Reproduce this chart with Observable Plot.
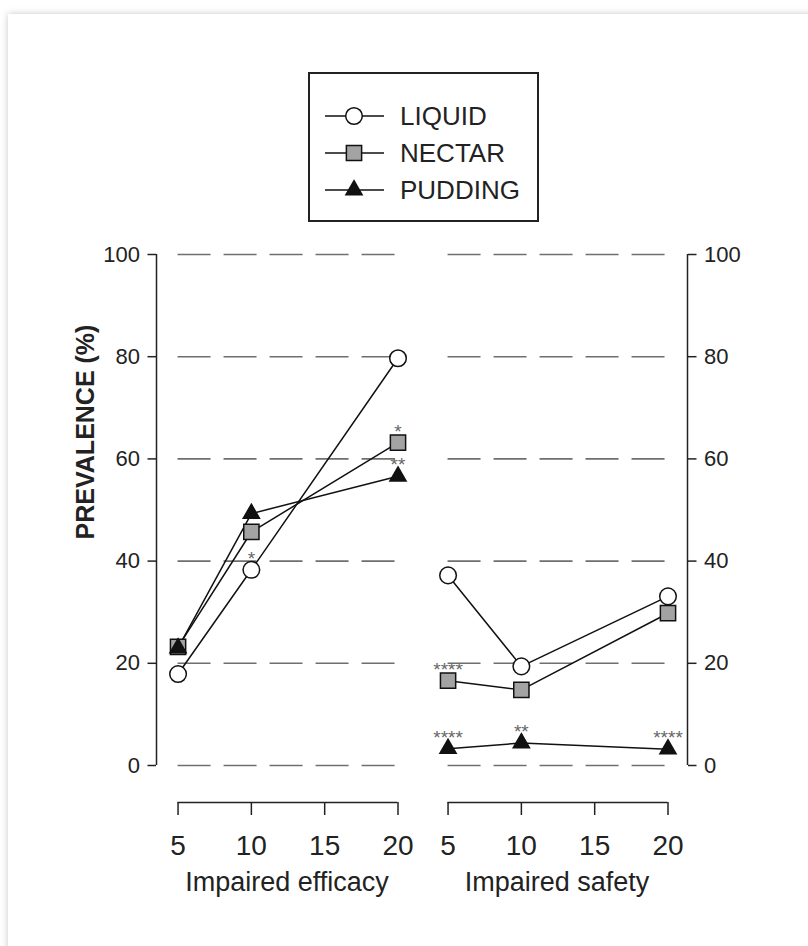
<!DOCTYPE html>
<html>
<head>
<meta charset="utf-8">
<script src="https://cdn.jsdelivr.net/npm/d3@7"></script>
<script src="https://cdn.jsdelivr.net/npm/@observablehq/plot@0.6"></script>
<style>
  html, body { margin: 0; padding: 0; background: #ffffff; width: 808px; height: 946px; overflow: hidden; }
  body { position: relative; font-family: "Liberation Sans", Arial, sans-serif; }
  #card { position: absolute; left: 8px; top: 14px; width: 830px; height: 960px; background: #fff;
          box-shadow: 0 0 7px rgba(0,0,0,0.22); }
  #chart { position: absolute; left: 0; top: 0; }
  #legend { position: absolute; left: 308px; top: 72px; }
</style>
</head>
<body>
<div id="card"></div>
<div id="chart"></div>
<div id="legend"></div>
<script>
// ---- data ----
const panels = ["Impaired efficacy", "Impaired safety"];
const doses = [5, 10, 20];
const seriesNames = ["LIQUID", "NECTAR", "PUDDING"];
const liquidEfficacy  = [17.9, 38.3, 79.7];
const nectarEfficacy  = [23.2, 45.7, 63.2];
const puddingEfficacy = [23.0, 49.3, 56.6];
const liquidSafety    = [37.2, 19.4, 33.1];
const nectarSafety    = [16.6, 14.8, 29.8];
const puddingSafety   = [3.3, 4.4, 3.2];
const yTicks = [0, 20, 40, 60, 80, 100];
const xTicks = [5, 10, 15, 20];
const annotPanels = ["Impaired efficacy", "Impaired efficacy", "Impaired efficacy", "Impaired safety", "Impaired safety", "Impaired safety", "Impaired safety"];
const annotDoses  = [10, 20, 20, 5, 5, 10, 20];
const annotSeries = ["LIQUID", "NECTAR", "PUDDING", "NECTAR", "PUDDING", "PUDDING", "PUDDING"];
const annotLabels = ["*", "*", "**", "****", "****", "**", "****"];

// ---- build table ----
const valuesBy = {
  "Impaired efficacy": {LIQUID: liquidEfficacy, NECTAR: nectarEfficacy, PUDDING: puddingEfficacy},
  "Impaired safety":   {LIQUID: liquidSafety,   NECTAR: nectarSafety,   PUDDING: puddingSafety}
};
const data = [];
for (const p of panels) for (const s of seriesNames) doses.forEach((d, i) => data.push({panel: p, series: s, dose: d, value: valuesBy[p][s][i]}));
const annots = annotLabels.map((t, i) => {
  const p = annotPanels[i], s = annotSeries[i], d = annotDoses[i];
  return {panel: p, dose: d, value: valuesBy[p][s][doses.indexOf(d)], label: t};
});

const styles = {
  LIQUID:  {symbol: "circle",   fill: "#ffffff", r: 8.3},
  NECTAR:  {symbol: "square",   fill: "#a3a3a3", r: 8.6},
  PUDDING: {symbol: "triangle", fill: "#111111", r: 6.0}
};
const xDomain = [3.53, 21.33];
const ink = "#222";
const font = "'Liberation Sans', Arial, Helvetica, sans-serif";

const chart = Plot.plot({
  width: 808,
  height: 946,
  marginTop: 254,
  marginBottom: 181,
  marginLeft: 155,
  marginRight: 120,
  style: {background: "transparent", fontFamily: font, color: ink},
  fx: {domain: panels, paddingInner: 0.033, paddingOuter: 0, axis: null, label: null},
  x: {domain: xDomain},
  y: {domain: [0, 100]},
  marks: [
    // dashed grid
    Plot.ruleY(yTicks, {x1: 5, x2: 20, stroke: "#6f6f6f", strokeWidth: 1.6, strokeDasharray: "33,13"}),
    // y axes
    Plot.axisY(yTicks, {anchor: "left", tickSize: 8.5, tickPadding: 8, fontSize: 22, label: null, color: ink, strokeWidth: 1.5}),
    Plot.axisY(yTicks, {anchor: "right", tickSize: 8.5, tickPadding: 8, fontSize: 22, label: null, color: ink, strokeWidth: 1.5}),
    Plot.ruleX([panels[0]], {fx: d => d, x: xDomain[0], y1: 0, y2: 100, stroke: ink, strokeWidth: 1.5}),
    Plot.ruleX([panels[1]], {fx: d => d, x: xDomain[1], y1: 0, y2: 100, stroke: ink, strokeWidth: 1.5}),
    // x axes (offset below frame)
    Plot.ruleY([0], {x1: xTicks[0], x2: xTicks[xTicks.length - 1], dy: 37, stroke: ink, strokeWidth: 1.5}),
    Plot.axisX(xTicks, {anchor: "bottom", tickSize: 13, tickPadding: 20, fontSize: 28, dy: 37, label: null, color: ink, strokeWidth: 1.5}),
    // panel titles
    Plot.text(panels, {fx: d => d, text: d => d, frameAnchor: "bottom", dy: 125, fontSize: 27, fill: ink}),
    // y label
    Plot.text(["PREVALENCE (%)"], {fx: () => panels[0], text: d => d, frameAnchor: "left", textAnchor: "middle", rotate: -90, dx: -71, dy: -78, fontSize: 25, fontWeight: "bold", fill: ink}),
    // lines
    Plot.line(data, {fx: "panel", x: "dose", y: "value", z: "series", stroke: "#111", strokeWidth: 1.5}),
    // markers
    ...seriesNames.map(s => Plot.dot(data.filter(d => d.series === s), {
      fx: "panel", x: "dose", y: "value", symbol: styles[s].symbol, r: styles[s].r,
      fill: styles[s].fill, stroke: "#111", strokeWidth: 1.5
    })),
    // significance asterisks
    Plot.text(annots, {fx: "panel", x: "dose", y: "value", text: "label", dy: -11, fontSize: 19, fill: "#666"})
  ]
});
document.getElementById("chart").appendChild(chart);

// ---- legend ----
const lw = 231, lh = 150;
const leg = d3.select("#legend").append("svg").attr("width", lw).attr("height", lh)
  .style("font-family", font);
leg.append("rect").attr("x", 1).attr("y", 1).attr("width", lw - 2).attr("height", lh - 2)
  .attr("fill", "#fff").attr("stroke", ink).attr("stroke-width", 2);
seriesNames.forEach((s, i) => {
  const cy = 44 + i * 37;
  const g = leg.append("g").attr("transform", `translate(0,${cy})`);
  g.append("line").attr("x1", 17).attr("x2", 76).attr("y1", 0).attr("y2", 0).attr("stroke", "#111").attr("stroke-width", 1.5);
  const st = styles[s];
  const sym = st.symbol === "circle" ? d3.symbolCircle : st.symbol === "square" ? d3.symbolSquare : d3.symbolTriangle;
  g.append("path").attr("transform", "translate(46,0)")
    .attr("d", d3.symbol(sym, st.r * st.r * Math.PI)())
    .attr("fill", st.fill).attr("stroke", "#111").attr("stroke-width", 1.5);
  g.append("text").attr("x", 92).attr("y", 0).attr("dy", "0.36em").attr("font-size", 26).attr("fill", ink).text(s);
});
</script>
</body>
</html>
